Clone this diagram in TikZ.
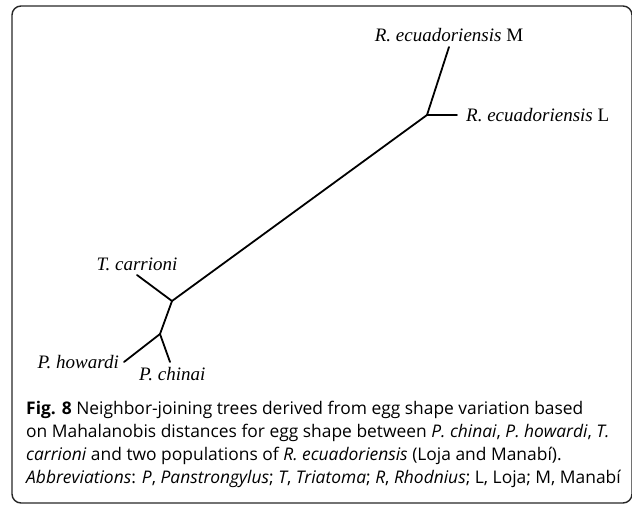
\documentclass[tikz,border=0pt]{standalone}
\usepackage{fontspec}
\setmainfont{Liberation Serif}
\newfontfamily\capfont{Open Sans}
\usetikzlibrary{positioning}
\tikzset{
  branch/.style={line width=1.8pt, line cap=round},
  taxon/.style={font=\fontsize{19}{22}\selectfont\itshape, inner sep=1pt},
  capbox/.style={font=\fontsize{17.4}{23}\selectfont\capfont, align=left, inner sep=0pt},
  frame/.style={draw=black!85, line width=1.4pt, rounded corners=9pt}
}

\begin{document}
\begin{tikzpicture}[x=1pt,y=-1pt]
    \useasboundingbox (0,0) rectangle (632,507);
    \draw[frame] (12,6) rectangle (632,503);

    % Internal nodes of the tree.
    \coordinate (nR) at (427,115);
    \coordinate (nT) at (172,301);
    \coordinate (nP) at (160,334);

    % Leaf ends.
    \coordinate (tM) at (449,47);
    \coordinate (tL) at (457,115);
    \coordinate (tT) at (137,275);
    \coordinate (tH) at (124,362);
    \coordinate (tC) at (170,362);

    % Branches.
    \draw[branch] (nR) -- (nT);
    \draw[branch] (nR) -- (tM);
    \draw[branch] (nR) -- (tL);
    \draw[branch] (nT) -- (tT);
    \draw[branch] (nT) -- (nP);
    \draw[branch] (nP) -- (tH);
    \draw[branch] (nP) -- (tC);

    % Taxon labels.
    \node[taxon, above=4pt of tM] (labM) {R. ecuadoriensis \textup{M}};
    \node[taxon, right=8pt of tL] (labL) {R. ecuadoriensis \textup{L}};
    \node[taxon, above=3pt of tT] (labT) {T. carrioni};
    \node[taxon, left=4pt of tH] (labH) {P. howardi};
    \node[taxon, below right=4pt and -32pt of tC] (labC) {P. chinai};

    % Caption (anchored at the baseline of its last line).
    \node[capbox, anchor=base west] (cap) at (26,483)
      {\textbf{Fig. 8} Neighbor-joining trees derived from egg shape variation based\\
       on Mahalanobis distances for egg shape between \textit{P. chinai}, \textit{P. howardi}, \textit{T.}\\
       \textit{carrioni} and two populations of \textit{R. ecuadoriensis} (Loja and Manabí).\\
       \textit{Abbreviations}: \textit{P}, \textit{Panstrongylus}; \textit{T}, \textit{Triatoma}; \textit{R}, \textit{Rhodnius}; L, Loja; M, Manabí};
\end{tikzpicture}
\end{document}
